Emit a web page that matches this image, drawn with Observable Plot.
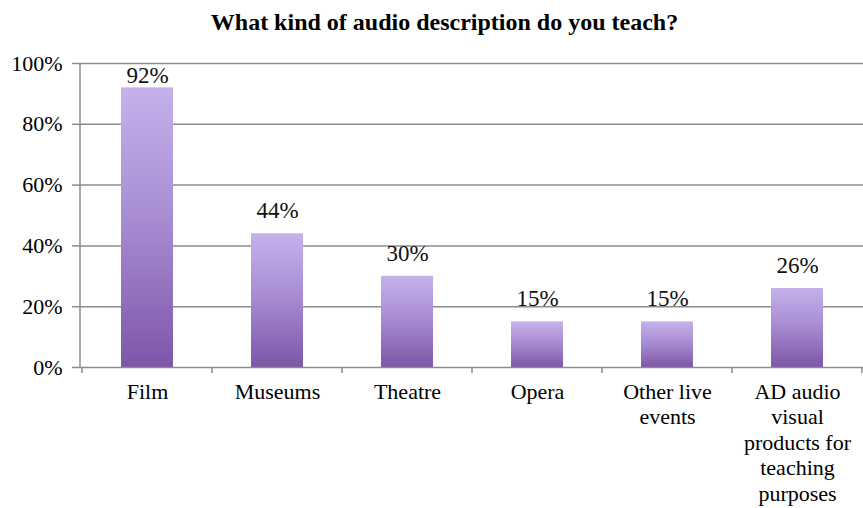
<!DOCTYPE html>
<html>
<head>
<meta charset="utf-8">
<script src="https://cdn.jsdelivr.net/npm/d3@7"></script>
<script src="https://cdn.jsdelivr.net/npm/@observablehq/plot@0.6"></script>
<style>
  html, body { margin: 0; padding: 0; background: #fff; overflow: hidden; }
  #title { position: relative; left: 13px; width: 863px; height: 40px; padding-top: 10px; text-align: center;
    font-family: "Liberation Serif", serif; font-weight: bold; font-size: 24px; line-height: 24px; color: #000; white-space: nowrap; }
</style>
</head>
<body>
<div id="title">What kind of audio description do you teach?</div>
<div id="chart"></div>
<script>
const categories = ["Film", "Museums", "Theatre", "Opera", "Other live\nevents", "AD audio\nvisual\nproducts for\nteaching\npurposes"];
const values = [0.92, 0.44, 0.30, 0.15, 0.15, 0.26];
const yTicks = [0, 0.2, 0.4, 0.6, 0.8, 1.0];

const data = categories.map((c, i) => ({category: c, value: values[i]}));

const W = 863, H = 458, mTop = 13, mBottom = 141, mLeft = 80;
const gridColor = "#8c8c8c";

const plot = Plot.plot({
  width: W,
  height: H,
  marginTop: mTop,
  marginBottom: mBottom,
  marginLeft: mLeft,
  marginRight: 0,
  style: {fontFamily: "Liberation Serif, serif", fontSize: "22px", color: "#000", background: "#fff", overflow: "visible"},
  x: {domain: categories, paddingInner: 0.6, paddingOuter: 0.3, label: null},
  y: {domain: [0, 1], label: null},
  marks: [
    Plot.ruleY(yTicks.slice(1), {stroke: gridColor, strokeWidth: 1.5, strokeOpacity: 1}),
    Plot.barY(data, {x: "category", y: "value", fill: "url(#barGrad)",
      style: "filter: drop-shadow(1px 1px 1px rgba(0,0,0,0.25))"}),
    Plot.ruleY([0], {stroke: gridColor, strokeWidth: 1.5}),
    Plot.axisY({ticks: yTicks, tickFormat: d => Math.round(d * 100) + "%", tickSize: 8, tickPadding: 10,
      stroke: gridColor, strokeWidth: 1.5, fontSize: 22, fill: "#000"}),
    Plot.axisX({tickSize: 0, tickPadding: 13, fontSize: 22, lineHeight: 1.16, fill: "#000", textAnchor: "middle"}),
    Plot.text(data, {x: "category", y: d => Math.min(d.value + 0.075, 0.96), text: d => Math.round(d.value * 100) + "%",
      fontFamily: "Liberation Serif, serif", fontSize: 23, fill: "#111"})
  ]
});

const svg = d3.select(plot);
const defs = svg.insert("defs", ":first-child");
const grad = defs.append("linearGradient").attr("id", "barGrad")
  .attr("x1", 0).attr("y1", 0).attr("x2", 0).attr("y2", 1);
grad.append("stop").attr("offset", "0%").attr("stop-color", "#c6b1eb");
grad.append("stop").attr("offset", "45%").attr("stop-color", "#a98ed4");
grad.append("stop").attr("offset", "100%").attr("stop-color", "#7d56a8");

const xs = plot.scale("x");
const ys = plot.scale("y");
const step = xs.bandwidth / 0.4;
const bottom = ys.apply(0);
const g = svg.append("g").attr("stroke", gridColor).attr("stroke-width", 1.5);
// y axis line
g.append("line").attr("x1", mLeft).attr("x2", mLeft).attr("y1", ys.apply(1)).attr("y2", bottom);
// band boundary tick marks below the x axis
categories.forEach((c, i) => {
  const bx = xs.apply(c) - 0.3 * step;
  g.append("line").attr("x1", bx).attr("x2", bx).attr("y1", bottom).attr("y2", bottom + 6);
  if (i === categories.length - 1) {
    const ex = bx + step;
    g.append("line").attr("x1", ex).attr("x2", ex).attr("y1", bottom).attr("y2", bottom + 6);
  }
});

document.getElementById("chart").appendChild(plot);
</script>
</body>
</html>
